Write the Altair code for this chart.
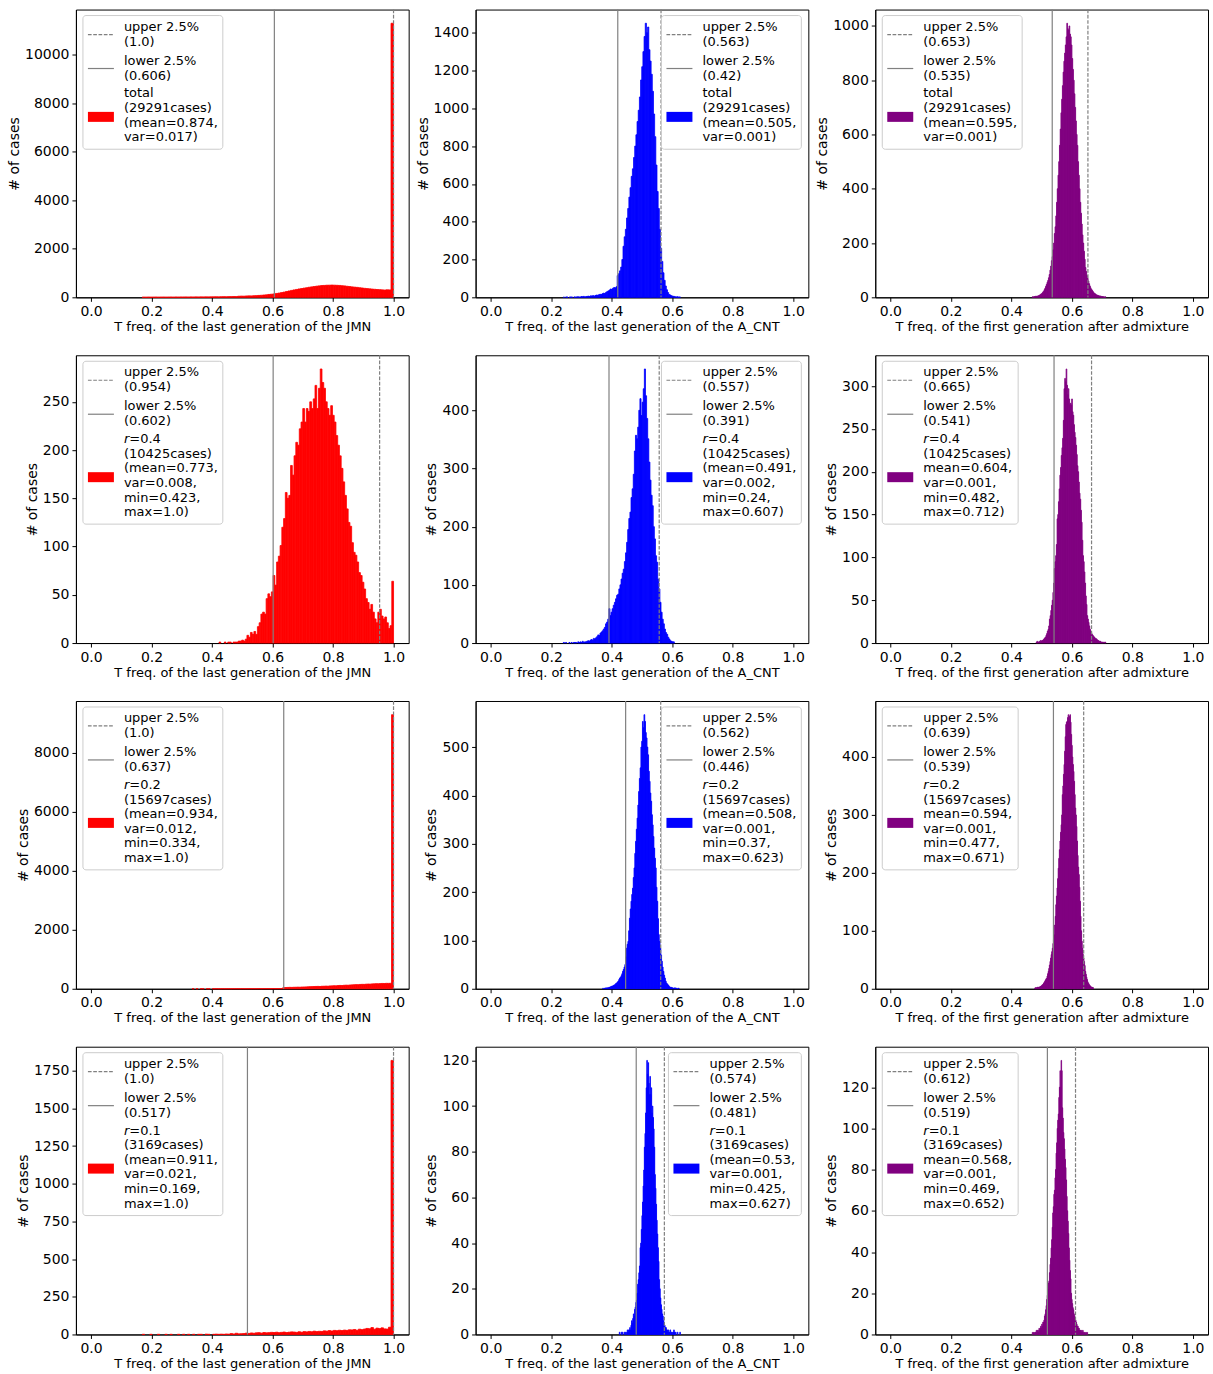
import altair as alt
import pandas as pd

FONT = "DejaVu Sans"
GRAY = "#808080"

# ---------------------------------------------------------------- data
x_titles = [
    "T freq. of the last generation of the JMN",
    "T freq. of the last generation of the A_CNT",
    "T freq. of the first generation after admixture",
]
bar_colors = ["#ff0000", "#0000ff", "#800080"]
group_names = ["total", "0.4", "0.2", "0.1"]          # one per row
case_counts = [29291, 10425, 15697, 3169]             # one per row

# panels are listed row by row (JMN, A_CNT, first generation)
bin_min = [0.169, 0.24, 0.469, 0.423, 0.24, 0.482, 0.334, 0.37, 0.477, 0.169, 0.425, 0.469]
bin_max = [1.0, 0.627, 0.712, 1.0, 0.607, 0.712, 1.0, 0.623, 0.671, 1.0, 0.627, 0.652]
upper_q = [1.0, 0.563, 0.653, 0.954, 0.557, 0.665, 1.0, 0.562, 0.639, 1.0, 0.574, 0.612]
lower_q = [0.606, 0.42, 0.535, 0.602, 0.391, 0.541, 0.637, 0.446, 0.539, 0.517, 0.481, 0.519]
stat_lines = [
    ["(mean=0.874,", "var=0.017)"],
    ["(mean=0.505,", "var=0.001)"],
    ["(mean=0.595,", "var=0.001)"],
    ["(mean=0.773,", "var=0.008,", "min=0.423,", "max=1.0)"],
    ["(mean=0.491,", "var=0.002,", "min=0.24,", "max=0.607)"],
    ["mean=0.604,", "var=0.001,", "min=0.482,", "max=0.712)"],
    ["(mean=0.934,", "var=0.012,", "min=0.334,", "max=1.0)"],
    ["(mean=0.508,", "var=0.001,", "min=0.37,", "max=0.623)"],
    ["mean=0.594,", "var=0.001,", "min=0.477,", "max=0.671)"],
    ["(mean=0.911,", "var=0.021,", "min=0.169,", "max=1.0)"],
    ["(mean=0.53,", "var=0.001,", "min=0.425,", "max=0.627)"],
    ["mean=0.568,", "var=0.001,", "min=0.469,", "max=0.652)"],
]
x_ticks = [0.0, 0.2, 0.4, 0.6, 0.8, 1.0]
y_ticks = [
    [0, 2000, 4000, 6000, 8000, 10000],
    [0, 200, 400, 600, 800, 1000, 1200, 1400],
    [0, 200, 400, 600, 800, 1000],
    [0, 50, 100, 150, 200, 250],
    [0, 100, 200, 300, 400],
    [0, 50, 100, 150, 200, 250, 300],
    [0, 2000, 4000, 6000, 8000],
    [0, 100, 200, 300, 400, 500],
    [0, 100, 200, 300, 400],
    [0, 250, 500, 750, 1000, 1250, 1500, 1750],
    [0, 20, 40, 60, 80, 100, 120],
    [0, 20, 40, 60, 80, 100, 120],
]

# 100-bin histogram counts
jmn_total = [
    6, 4, 8, 5, 7, 9, 6, 8, 10, 7,
    9, 11, 8, 12, 10, 13, 12, 14, 11, 15,
    13, 16, 14, 17, 15, 18, 16, 19, 20, 22,
    19, 24, 26, 23, 28, 30, 33, 31, 45, 50,
    48, 56, 60, 58, 66, 70, 78, 85, 95, 104,
    118, 128, 140, 160, 175, 195, 215, 240, 262, 285,
    305, 325, 345, 362, 380, 395, 415, 430, 445, 460,
    472, 485, 490, 498, 500, 505, 500, 495, 490, 478,
    470, 455, 445, 430, 420, 410, 395, 385, 370, 360,
    350, 340, 330, 322, 315, 308, 300, 310, 305, 11290,
]
acnt_total = [
    1, 0, 2, 1, 0, 1, 2, 1, 0, 2,
    1, 2, 3, 2, 1, 4, 3, 5, 2, 4,
    5, 6, 4, 8, 7, 9, 6, 10, 12, 11,
    14, 16, 15, 19, 22, 20, 26, 30, 34, 38,
    44, 42, 48, 52, 50, 56, 115, 125, 140, 160,
    200, 270, 320, 360, 420, 470, 530, 580, 640, 680,
    740, 800, 860, 930, 990, 1060, 1150, 1220, 1300, 1380,
    1450, 1400, 1430, 1310, 1250, 1180, 1090, 970, 850, 700,
    560, 470, 360, 260, 190, 130, 90, 60, 40, 25,
    15, 12, 8, 6, 5, 3, 2, 3, 1, 2,
]
adm_total = [
    2, 1, 3, 2, 4, 3, 5, 4, 6, 7,
    9, 11, 13, 15, 19, 22, 28, 33, 40, 47,
    55, 62, 72, 84, 100, 115, 135, 150, 175, 200,
    235, 260, 300, 350, 400, 450, 500, 560, 620, 680,
    730, 780, 830, 870, 900, 930, 960, 1010, 990, 985,
    1000, 970, 960, 930, 880, 840, 800, 750, 700, 650,
    600, 560, 500, 450, 400, 350, 310, 270, 230, 200,
    170, 140, 110, 95, 80, 70, 60, 50, 42, 35,
    30, 26, 22, 18, 15, 13, 11, 9, 8, 7,
    6, 5, 5, 4, 3, 3, 2, 2, 1, 2,
]
jmn_r04 = [
    1, 0, 0, 1, 0, 1, 1, 0, 1, 1,
    1, 2, 2, 3, 2, 4, 8, 6, 11, 9,
    12, 9, 17, 21, 30, 32, 30, 46, 51, 48,
    53, 70, 60, 84, 90, 101, 120, 129, 156, 150,
    153, 184, 174, 194, 208, 205, 222, 229, 243, 229,
    243, 240, 250, 243, 253, 267, 243, 264, 284, 270,
    264, 250, 243, 236, 246, 236, 229, 215, 205, 194,
    181, 167, 153, 139, 125, 121, 104, 94, 91, 84,
    73, 70, 63, 56, 46, 42, 35, 40, 32, 25,
    21, 32, 35, 28, 25, 27, 21, 15, 18, 64,
]
acnt_r04 = [
    1, 0, 1, 0, 0, 1, 0, 1, 0, 1,
    1, 1, 0, 2, 1, 2, 1, 3, 1, 2,
    2, 3, 4, 3, 5, 6, 5, 8, 7, 9,
    11, 14, 13, 17, 19, 21, 24, 27, 33, 36,
    41, 59, 47, 53, 59, 65, 70, 76, 82, 84,
    93, 100, 110, 120, 127, 140, 155, 173, 195, 214,
    225, 250, 265, 290, 330, 357, 351, 371, 400, 420,
    391, 414, 437, 471, 425, 386, 351, 311, 280, 254,
    236, 200, 179, 150, 139, 110, 93, 70, 53, 41,
    33, 24, 18, 15, 10, 7, 4, 3, 2, 2,
]
adm_r04 = [
    1, 2, 1, 1, 2, 1, 3, 2, 3, 3,
    4, 5, 6, 7, 9, 11, 14, 16, 20, 28,
    32, 38, 44, 50, 59, 70, 87, 95, 102, 115,
    145, 150, 165, 180, 196, 205, 219, 228, 239, 260,
    297, 309, 305, 320, 301, 290, 297, 285, 278, 280,
    278, 285, 270, 266, 255, 246, 240, 231, 220, 207,
    200, 188, 175, 168, 155, 141, 120, 102, 95, 83,
    70, 55, 45, 32, 28, 24, 20, 16, 14, 12,
    10, 9, 8, 7, 6, 5, 5, 4, 3, 3,
    2, 2, 2, 1, 1, 1, 1, 0, 1, 1,
]
jmn_r02 = [
    1, 0, 1, 0, 1, 1, 0, 1, 1, 0,
    1, 1, 2, 1, 1, 2, 1, 2, 2, 1,
    2, 2, 3, 2, 3, 3, 2, 3, 4, 3,
    4, 3, 4, 5, 4, 5, 5, 6, 5, 6,
    7, 6, 7, 8, 8, 38, 42, 45, 48, 46,
    50, 52, 55, 53, 58, 60, 62, 66, 70, 72,
    75, 78, 80, 77, 84, 86, 90, 88, 95, 98,
    102, 100, 108, 112, 110, 118, 122, 120, 128, 132,
    136, 140, 138, 146, 150, 148, 156, 160, 158, 165,
    168, 172, 170, 176, 180, 178, 184, 182, 186, 9298,
]
acnt_r02 = [
    1, 0, 1, 1, 2, 1, 2, 2, 3, 3,
    4, 5, 5, 6, 7, 8, 9, 11, 12, 14,
    16, 19, 22, 24, 27, 31, 36, 40, 45, 50,
    66, 84, 92, 98, 120, 146, 165, 181, 195, 208,
    230, 250, 280, 305, 330, 353, 380, 408, 435, 457,
    500, 512, 553, 540, 567, 553, 530, 519, 500, 484,
    450, 429, 405, 388, 360, 339, 315, 291, 270, 250,
    210, 181, 145, 112, 98, 84, 70, 57, 45, 36,
    28, 22, 16, 12, 10, 8, 6, 4, 3, 3,
    2, 2, 1, 1, 2, 1, 1, 0, 1, 1,
]
adm_r02 = [
    1, 2, 1, 2, 2, 3, 2, 3, 3, 4,
    4, 5, 6, 7, 8, 10, 11, 13, 15, 17,
    18, 22, 26, 30, 35, 41, 47, 53, 59, 64,
    70, 78, 85, 93, 110, 125, 145, 160, 174, 190,
    208, 225, 240, 255, 270, 283, 300, 335, 350, 370,
    387, 410, 435, 456, 460, 462, 468, 473, 462, 470,
    473, 460, 439, 420, 400, 387, 375, 358, 335, 312,
    300, 280, 255, 230, 210, 197, 175, 151, 125, 100,
    82, 70, 59, 53, 47, 40, 30, 25, 20, 16,
    12, 10, 8, 6, 5, 4, 3, 3, 2, 2,
]
jmn_r01 = [
    1, 0, 0, 1, 0, 0, 1, 0, 0, 1,
    0, 1, 0, 0, 1, 0, 1, 0, 1, 0,
    1, 0, 1, 1, 0, 2, 1, 0, 1, 2,
    1, 2, 1, 3, 2, 6, 3, 8, 4, 5,
    6, 9, 7, 10, 8, 11, 12, 9, 13, 11,
    12, 14, 13, 15, 12, 14, 16, 13, 15, 17,
    16, 14, 18, 15, 19, 17, 20, 18, 22, 19,
    21, 20, 24, 22, 26, 23, 27, 25, 28, 26,
    29, 27, 31, 30, 33, 28, 35, 32, 36, 40,
    38, 46, 35, 42, 39, 44, 37, 36, 48, 1818,
]
acnt_r01 = [
    1, 0, 0, 1, 0, 1, 0, 0, 1, 0,
    1, 0, 1, 2, 1, 2, 2, 3, 2, 4,
    6, 5, 7, 9, 8, 11, 12, 14, 15, 18,
    22, 24, 27, 30, 38, 40, 46, 52, 58, 65,
    72, 82, 88, 97, 108, 120, 114, 119, 110, 105,
    113, 105, 108, 97, 100, 95, 90, 82, 70, 64,
    57, 50, 44, 38, 32, 24, 20, 16, 13, 11,
    9, 8, 6, 5, 4, 3, 3, 2, 2, 1,
    2, 1, 1, 2, 0, 1, 1, 0, 1, 2,
    1, 0, 1, 0, 0, 1, 0, 0, 0, 1,
]
adm_r01 = [
    1, 0, 1, 1, 0, 1, 1, 2, 1, 2,
    2, 1, 3, 2, 3, 4, 3, 5, 4, 6,
    6, 7, 9, 10, 12, 14, 17, 19, 22, 25,
    26, 30, 34, 37, 42, 46, 52, 59, 62, 68,
    70, 76, 80, 88, 93, 100, 104, 107, 115, 120,
    128, 120, 133, 128, 110, 105, 98, 95, 90, 85,
    81, 75, 67, 60, 55, 49, 42, 36, 31, 27,
    20, 17, 15, 13, 12, 10, 9, 8, 7, 6,
    5, 4, 4, 3, 3, 2, 2, 2, 1, 2,
    1, 2, 1, 0, 1, 1, 0, 1, 0, 1,
]
counts = [
    jmn_total, acnt_total, adm_total,
    jmn_r04, acnt_r04, adm_r04,
    jmn_r02, acnt_r02, adm_r02,
    jmn_r01, acnt_r01, adm_r01,
]

# ---------------------------------------------------------------- drawing
PLOT_W, PLOT_H = 333, 288
legend_w = [140, 140, 140, 140, 140, 136, 140, 140, 136, 140, 133, 136]
one = pd.DataFrame({"k": [0]})


def text_at(s, x, y, italic=False):
    return alt.Chart(one).mark_text(
        text=s, align="left", baseline="middle", fontSize=13, font=FONT,
        color="black", fontStyle="italic" if italic else "normal",
    ).encode(x=alt.value(x), y=alt.value(y))


def legend(k, row, col, color):
    w = legend_w[k]
    bx = 7 if col != 1 else PLOT_W - 7 - w
    tx = bx + 41
    block = ([group_names[row]] if row == 0 else ["r"]) + [f"({case_counts[row]}cases)"] + stat_lines[k]
    ys = [84 + 14.6 * i for i in range(len(block))]
    patch_c = (ys[0] + ys[-1]) / 2 + 1.5
    layers = [
        alt.Chart(one).mark_rect(fill="white", fillOpacity=0.8, stroke="#cccccc",
                                 strokeWidth=1, cornerRadius=3).encode(
            x=alt.value(bx), x2=alt.value(bx + w), y=alt.value(6), y2=alt.value(ys[-1] + 12)),
        alt.Chart(one).mark_rule(color=GRAY, strokeWidth=1.2, strokeDash=[3.7, 1.6]).encode(
            x=alt.value(bx + 5), x2=alt.value(bx + 31), y=alt.value(25)),
        alt.Chart(one).mark_rule(color=GRAY, strokeWidth=1.2).encode(
            x=alt.value(bx + 5), x2=alt.value(bx + 31), y=alt.value(59)),
        alt.Chart(one).mark_rect(color=color).encode(
            x=alt.value(bx + 5), x2=alt.value(bx + 31),
            y=alt.value(patch_c - 5), y2=alt.value(patch_c + 5)),
        text_at("upper 2.5%", tx, 17),
        text_at(f"({upper_q[k]})", tx, 32),
        text_at("lower 2.5%", tx, 51),
        text_at(f"({lower_q[k]})", tx, 66),
    ]
    for i, line in enumerate(block):
        if row > 0 and i == 0:
            layers.append(text_at("r", tx, ys[0], italic=True))
            layers.append(text_at(f"={group_names[row]}", tx + 5.4, ys[0]))
        else:
            layers.append(text_at(line, tx, ys[i]))
    return layers


def panel(k):
    row, col = divmod(k, 3)
    c = counts[k]
    lo, hi = bin_min[k], bin_max[k]
    w = (hi - lo) / len(c)
    df = pd.DataFrame({
        "x0": [lo + i * w for i in range(len(c))],
        "x1": [lo + (i + 1) * w for i in range(len(c))],
        "n": c,
    })
    df = df[df["n"] > 0]
    color = bar_colors[col]
    bars = alt.Chart(df).mark_rect(color=color, stroke=color, strokeWidth=0.8).encode(
        x=alt.X("x0:Q", scale=alt.Scale(domain=[-0.05, 1.05], nice=False, zero=False),
                axis=alt.Axis(values=x_ticks, format=".1f", title=x_titles[col])),
        x2="x1:Q",
        y=alt.Y("n:Q", scale=alt.Scale(domain=[0, 1.05 * max(c)], nice=False),
                axis=alt.Axis(values=y_ticks[k], format="d", title="# of cases")),
        y2=alt.datum(0),
    )
    low = alt.Chart(one).mark_rule(color=GRAY, strokeWidth=1.2).encode(x=alt.datum(lower_q[k]))
    up = alt.Chart(one).mark_rule(color=GRAY, strokeWidth=1.2, strokeDash=[3.7, 1.6]).encode(
        x=alt.datum(upper_q[k]))
    return alt.layer(bars, low, up, *legend(k, row, col, color)).properties(
        width=PLOT_W, height=PLOT_H)


chart = alt.concat(
    *[panel(k) for k in range(12)],
    columns=3,
    spacing={"row": 58, "column": 67},
    bounds="flush",
).properties(
    padding={"left": 6, "top": 7, "right": 4, "bottom": 4},
).configure_axis(
    labelFont=FONT, titleFont=FONT, labelFontSize=14, titleFontSize=14,
    labelColor="black", titleColor="black", titleFontWeight="normal",
    grid=False, tickSize=4, tickWidth=1, tickColor="black",
    domainColor="black", domainWidth=1, labelPadding=3, titlePadding=3,
    labelFlush=False, labelOverlap=False, labelBound=False, zindex=1,
).configure_axisX(
    titleFontSize=13, titlePadding=2,
).configure_view(
    stroke="black", strokeWidth=1,
)

chart.save("out.html", embed_options={"renderer": "svg", "actions": False})
